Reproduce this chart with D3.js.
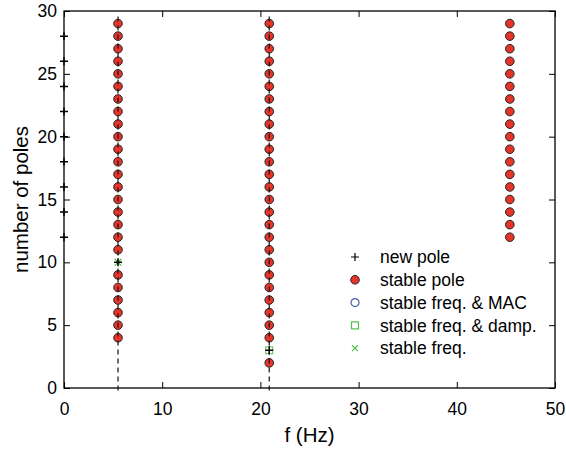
<!DOCTYPE html>
<html lang="en">
<head>
  <meta charset="UTF-8">
  <title>Stabilization diagram</title>
  <script src="https://d3js.org/d3.v7.min.js"></script>
  <style>
    body { margin: 0; background: #fff; }
    text { font-family: "Liberation Sans", Arial, sans-serif; }
  </style>
</head>
<body>
  <svg width="566" height="451"></svg>
  <script>
  // physical modes (Hz) and the model orders where a stable pole was found
  var modeFreqs = [5.5, 20.9, 45.4];
  var stableOrders = [
    [4, 5, 6, 7, 8, 9, 11, 12, 13, 14, 15, 16, 17, 18, 19, 20, 21, 22, 23, 24, 25, 26, 27, 28, 29],
    [2, 4, 5, 6, 7, 8, 9, 10, 11, 12, 13, 14, 15, 16, 17, 18, 19, 20, 21, 22, 23, 24, 25, 26, 27, 28, 29],
    [12, 13, 14, 15, 16, 17, 18, 19, 20, 21, 22, 23, 24, 25, 26, 27, 28, 29]
  ];
  var newPoleF = [0, 0, 0, 0, 0, 0, 0, 0, 0, 5.5, 20.9];
  var newPoleN = [12, 14, 16, 18, 20, 22, 24, 26, 28, 10, 3];
  var stableFreqF = [5.5], stableFreqN = [10];
  var stableDampF = [20.9], stableDampN = [3];
  var dashedModes = [5.5, 20.9];
  var xTicks = [0, 10, 20, 30, 40, 50];
  var yTicks = [0, 5, 10, 15, 20, 25, 30];
  var legendLabels = ["new pole", "stable pole", "stable freq. & MAC", "stable freq. & damp.", "stable freq."];

  var svg = d3.select("svg"),
    margin = {top: 11, right: 11, bottom: 63, left: 64},
    width = +svg.attr("width") - margin.left - margin.right,
    height = +svg.attr("height") - margin.top - margin.bottom,
    g = svg.append("g").attr("transform", "translate(" + margin.left + "," + margin.top + ")");

  var x = d3.scaleLinear().domain([0, 50]).range([0, width]);
  var y = d3.scaleLinear().domain([0, 30]).range([height, 0]);

  var red = "#e5352a", blue = "#4a5cb0", green = "#4fc24a";

  // axes (ticks inward, box all round)
  g.append("g")
      .attr("transform", "translate(0," + height + ")")
      .call(d3.axisBottom(x).tickValues(xTicks).tickSizeInner(-6).tickSizeOuter(0).tickPadding(15))
      .call(function(a) { a.select(".domain").remove(); });
  g.append("g")
      .call(d3.axisLeft(y).tickValues(yTicks).tickSizeInner(-6).tickSizeOuter(0).tickPadding(7))
      .call(function(a) { a.select(".domain").remove(); });
  g.append("g")
      .call(d3.axisTop(x).tickValues(xTicks).tickSizeInner(-6).tickSizeOuter(0).tickFormat(""))
      .call(function(a) { a.select(".domain").remove(); });
  g.append("g")
      .attr("transform", "translate(" + width + ",0)")
      .call(d3.axisRight(y).tickValues(yTicks).tickSizeInner(-6).tickSizeOuter(0).tickFormat(""))
      .call(function(a) { a.select(".domain").remove(); });
  g.selectAll(".tick text").attr("font-size", 17.5).attr("font-family", "Liberation Sans, Arial, sans-serif").attr("fill", "#000");
  g.selectAll(".tick line").attr("stroke", "#000");

  g.append("rect")
      .attr("width", width).attr("height", height)
      .attr("fill", "none").attr("stroke", "#000").attr("stroke-width", 1.3);

  // stable poles
  stableOrders.forEach(function(orders, i) {
    g.append("g").selectAll("circle")
        .data(orders)
      .enter().append("circle")
        .attr("cx", x(modeFreqs[i]))
        .attr("cy", function(d) { return y(d); })
        .attr("r", 4.3)
        .attr("fill", red)
        .attr("stroke", "#222")
        .attr("stroke-width", 1);
  });

  // stable freq & damp squares
  g.selectAll(".sq")
      .data(d3.range(stableDampF.length))
    .enter().append("rect")
      .attr("x", function(i) { return x(stableDampF[i]) - 3.5; })
      .attr("y", function(i) { return y(stableDampN[i]) - 3.5; })
      .attr("width", 7).attr("height", 7)
      .attr("fill", "none").attr("stroke", green).attr("stroke-width", 1);

  // stable freq crosses
  var cross = d3.symbol().type(d3.symbolX).size(30);
  g.selectAll(".sx")
      .data(d3.range(stableFreqF.length))
    .enter().append("path")
      .attr("transform", function(i) { return "translate(" + x(stableFreqF[i]) + "," + y(stableFreqN[i]) + ")"; })
      .attr("d", cross)
      .attr("fill", "none").attr("stroke", green).attr("stroke-width", 1.2);

  // new poles
  g.selectAll(".np")
      .data(d3.range(newPoleF.length))
    .enter().append("path")
      .attr("transform", function(i) { return "translate(" + x(newPoleF[i]) + "," + y(newPoleN[i]) + ")"; })
      .attr("d", "M-4,0H4M0,-4V4")
      .attr("fill", "none").attr("stroke", "#000").attr("stroke-width", 1.5);

  // dashed mode lines
  g.selectAll(".ml")
      .data(dashedModes)
    .enter().append("line")
      .attr("x1", function(d) { return x(d); })
      .attr("x2", function(d) { return x(d); })
      .attr("y1", y(-0.2))
      .attr("y2", y(29.8))
      .attr("stroke", "#111")
      .attr("stroke-width", 1.2)
      .attr("stroke-dasharray", "5,4");

  // legend
  var leg = g.append("g").attr("transform", "translate(" + (355 - margin.left) + "," + (257 - margin.top) + ")");
  legendLabels.forEach(function(lab, i) {
    var r = leg.append("g").attr("transform", "translate(0," + (i * 22.8) + ")");
    if (i == 0) r.append("path").attr("d", "M-4,0H4M0,-4V4").attr("stroke", "#000").attr("stroke-width", 1.2);
    if (i == 1) r.append("circle").attr("r", 4.3).attr("fill", red).attr("stroke", "#222");
    if (i == 2) r.append("circle").attr("r", 4).attr("fill", "none").attr("stroke", blue).attr("stroke-width", 1.2);
    if (i == 3) r.append("rect").attr("x", -3.5).attr("y", -3.5).attr("width", 7).attr("height", 7).attr("fill", "none").attr("stroke", green).attr("stroke-width", 1.2);
    if (i == 4) r.append("path").attr("d", d3.symbol().type(d3.symbolX).size(24)).attr("fill", "none").attr("stroke", green).attr("stroke-width", 1.2);
    r.append("text").attr("x", 25).attr("dy", "0.35em").attr("font-size", 17.5).attr("fill", "#000").text(lab);
  });

  // axis titles
  svg.append("text")
      .attr("x", margin.left + width / 2).attr("y", 442)
      .attr("text-anchor", "middle").attr("font-size", 20.5)
      .text("f (Hz)");
  svg.append("text")
      .attr("transform", "translate(28," + (margin.top + height / 2) + ") rotate(-90)")
      .attr("text-anchor", "middle").attr("font-size", 20.5)
      .text("number of poles");
  </script>
</body>
</html>
